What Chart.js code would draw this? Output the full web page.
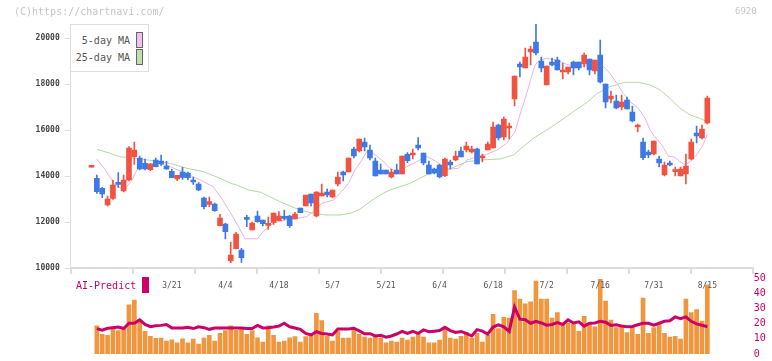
<!DOCTYPE HTML>
<html>
<head>
  <script src="https://cdn.jsdelivr.net/npm/chart.js"></script>
  <style>
    body { margin: 0; background: #fff; }
    #wrap { position: relative; width: 772px; height: 361px; font-family: "DejaVu Sans Mono", monospace; }
    #wrap canvas { position: absolute; left: 0; top: 0; }
    .txt { position: absolute; white-space: nowrap; line-height: 1; }
  </style>
  <script>
    // daily candles (index 0 = first day shown)
    const opens  = [14380,13899,13464,12740,13030,13711,13348,13826,14841,14783,14551,14276,14696,14652,14435,14203,13870,14174,14131,13783,
                    13653,13044,12769,12783,11841,11914,10306,10842,10784,12160,11653,12262,12088,11856,11986,12059,12218,12262,12131,12610,
                    12697,13218,12262,13131,13305,13088,13653,14174,14174,15174,15087,15479,15131,14652,14261,14261,13957,14261,14087,14944,
                    14914,15349,15001,14480,14306,14480,14016,14610,14697,15088,15132,15045,15175,14784,15132,15219,16219,15697,16088,17349,
                    18870,18697,19392,19827,19001,17957,18957,19044,18523,18523,18957,18957,18870,19088,18566,19262,18001,17349,17262,17001,
                    17305,16784,16132,15480,15045,14958,14741,14045,14567,14190,14002,14089,14741,15871,15654,16306];
    const highs  = [14380,14044,13508,13131,13826,14145,14044,15276,15478,14870,14739,14537,14783,14913,14638,14290,14029,14377,14174,13942,
                    13711,13088,13088,12827,12334,11943,11131,11552,10856,12291,12001,12479,12088,12218,12392,12450,12522,12291,12421,12610,
                    13175,13218,13320,13653,13436,13392,14174,14218,14783,15261,15609,15652,15348,14783,14522,14261,14305,14522,14870,15016,
                    15175,15668,15001,14654,14349,14523,14784,14697,15088,15262,15480,15306,15219,14958,15480,16349,16262,16567,16306,18349,
                    18957,19566,19653,20609,19175,18783,19131,19175,18914,18740,19001,18957,19349,19088,19044,19914,18001,17697,17523,17523,
                    17436,17045,16262,15654,15132,15523,14871,14610,14654,14393,14393,14958,15610,16175,16219,17479];
    const lows   = [14380,13247,13059,12696,12986,13508,13305,13783,14508,14261,14261,14232,14392,14464,14290,13928,13797,13855,13826,13638,
                    13363,12566,12667,12464,11827,11262,10233,10827,10247,11798,11653,11986,11827,11682,11899,12059,12088,11769,12131,12407,
                    12697,12697,12218,13131,13088,13044,13566,13783,14174,14783,15044,15087,14696,14000,14087,14087,13913,14087,14087,14581,
                    14741,15132,14480,14089,14089,13915,13973,14306,14654,14827,15045,15001,14523,14610,15132,15219,15567,15567,15610,17045,
                    18305,18697,18827,19262,18523,17957,18783,18610,18218,18436,18392,18610,18740,18392,18436,18044,16958,17175,16914,16871,
                    16914,16349,15914,14712,14799,14914,14393,14002,14436,14002,14002,13654,14697,15436,15610,16262];
    const closes = [14380,13319,13218,13000,13609,13638,13826,15218,15131,14305,14305,14522,14406,14522,14305,13928,14029,13942,13928,13740,
                    13392,12667,12885,12493,12175,11580,10566,11479,10450,12117,11957,12015,11928,11928,12392,12262,12160,11841,12349,12407,
                    13175,12827,13305,13262,13175,13392,13957,14044,14783,14870,15609,15261,14783,14000,14087,14087,14174,14087,14870,14668,
                    15001,15219,14567,14089,14132,13958,14741,14480,14871,14827,15306,15175,14523,14827,15393,16132,15654,16480,16175,18349,
                    18740,19175,19522,19349,18697,18783,18827,18610,18610,18740,18697,18697,19262,18610,19044,18088,17218,17479,16958,17218,
                    16914,16392,16175,14799,14914,15523,14567,14480,14480,14262,14306,14436,15480,15741,16045,17392];

    // moving averages: [day index, value]
    const ma5Pos  = [1,2.5,4.4,6,7.5,9,12.7,14.7,17.5,20.3,22.7,24.5,26.4,28.7,31,32.1,33.9,36.1,38.3,40.2,41.4,43,45.2,46.7,48,49.2,50.5,51.4,
                     52.6,54.2,55.7,57,58.9,60.7,62.6,64.5,65.7,66.9,68.5,70.1,71.9,73.8,75.7,77.5,79.1,80,81,81.9,82.8,83.8,85,86.9,88.7,
                     90.6,92.5,94.3,95,96.8,98.1,99.3,100.6,102.1,103.4,104.3,105.2,106.5,107.7,109,109.9,110.8,111.8,113,114.2,115];
    const ma5Vals = [14740,14290,13609,13392,13800,14480,14552,14404,14130,13826,13535,12957,12230,11270,11270,11600,11943,12087,12160,12230,
                     12450,12812,12957,13317,13683,14261,14696,15056,14987,14696,14335,14187,14404,14622,14850,14622,14335,14304,14335,14696,
                     14839,14943,15131,15422,15926,16652,17378,18100,18826,19043,19117,19043,18856,18752,18796,18856,18900,18465,18030,17596,
                     17233,16944,16509,16000,15709,15348,14870,14813,14622,14478,14622,14913,15348,15813];
    const ma25Pos  = [1,3.5,5.3,8.4,11.5,14.7,17.8,20.9,24,26,27.1,29.3,31.5,33.3,35.2,37.1,38.9,41.4,43.9,46.4,48.3,50.1,52,53.9,55.7,57.6,
                      59.5,61.3,63,66.9,70.1,72.5,76.3,78.8,80.6,82.5,85,87.5,90,92.5,94.5,96.8,99.6,102.1,104.3,106.2,108,109.9,111.8,113.6,115];
    const ma25Vals = [15161,14987,14839,14769,14665,14552,14335,14187,13900,13682,13609,13391,13300,13100,12883,12696,12522,12378,12304,12304,
                      12378,12552,12883,13174,13391,13535,13682,13900,14090,14304,14622,14696,14739,14913,15274,15639,16000,16391,16796,17200,
                      17600,17883,18074,18074,17957,17739,17378,16944,16652,16509,16361];

    // lower panel: volume bars and AI-Predict line (no value on day 0)
    const volumes = [null,18.6,13,12.4,17.8,15.5,17.2,32.5,35.6,22.6,14.9,11.7,10.3,10.5,8.6,9.4,7.3,10,7.3,9.8,6.5,10.5,12.4,8.6,13.6,15.5,
                     18.6,15.7,17.4,13,15.5,10.7,7.9,18.6,12.4,7.9,8.6,10.7,11.5,7.9,11.5,13.6,26.8,22,11.7,8.6,14.9,10.5,10.5,15.7,13,
                     11.1,10.5,11.7,10.5,7.3,8.6,7.9,10.5,9.2,11.1,13,11.1,7.3,7.3,9.2,16.8,10.5,9.8,11.7,14.2,10.5,13.6,7.9,12.4,26.2,
                     16.8,24.3,23.7,41.9,36.2,33.1,34.4,48.2,36.2,36.2,23.7,27.4,20.5,20.5,19.9,14.9,24.9,19.9,18,49.4,35,22.4,17.4,19.3,
                     14.2,18,13,36.9,13.6,17.4,19.3,13.6,11.1,11.7,9.8,36.2,27.4,29.3,21.8,45.7];
    const aiPredict = [null,16.8,15.7,17,17.4,17.8,16.8,20.3,20.3,22.6,19.5,18,18.6,18.9,19.5,17.2,17.2,17.2,17.6,16.8,18,17.4,16.3,17.2,17.2,
                       17.2,17.2,17.2,17.2,16.8,16.8,18.9,17.2,17.4,17.8,18.4,20.3,18,17.2,16.3,13.6,12.6,14.7,13.6,13.2,12.6,16.5,16.5,
                       16.5,17,15.3,13.4,13.4,11.9,12.4,11.1,11.9,13.2,14.9,13.6,14.9,13.6,15.9,14.7,15.1,15.5,17.6,15.5,14.2,14.9,13.6,
                       11.9,16.1,15.1,13.2,17.8,19.3,18,14.9,31,23,22.6,20.3,21.6,20.5,19,19.5,20.7,19.5,22.6,20.5,21.2,18.4,20.3,20.5,
                       21.6,21,18.9,19.3,18.4,18,18.2,19.3,20.3,20.3,19,20.3,21.6,22,24.5,23.3,24.5,21.6,19.9,19,18];

    const dateLabels = ["3/21","4/4","4/18","5/7","5/21","6/4","6/18","7/2","7/16","7/31","8/15"];
    const dateIdx    = [15,25,35,45,55,65,75,85,95,105,115];
    const priceTicks = [10000,12000,14000,16000,18000,20000];
    const aiTicks    = [0,10,20,30,40,50];

    // shared horizontal layout (pixels)
    const AREA_L = 70.7, AREA_R = 752.7, FIRST_X = 91.5, STEP = 5.355;
    const X_MIN = -(FIRST_X - AREA_L) / STEP;
    const X_MAX = X_MIN + (AREA_R - AREA_L) / STEP;
    const gridTicks = Array.from({length: 12}, (_, k) => X_MIN + k * (X_MAX - X_MIN) / 11);

    const UP = '#f25340', DOWN = '#3f79e6';
    const monoFont = '"DejaVu Sans Mono", monospace';

    function drawPrice() {
      const ctx = document.getElementById('priceChart').getContext('2d');
      const days = closes.map((_, i) => i);
      const colors = days.map(i => closes[i] >= opens[i] ? UP : DOWN);

      new Chart(ctx, {
        type: 'bar',
        data: {
          datasets: [
            { type: 'line', data: ma5Pos.map((p, k) => ({x: p, y: ma5Vals[k]})),
              borderColor: '#e6b2e6', borderWidth: 1, pointRadius: 0, order: 3 },
            { type: 'line', data: ma25Pos.map((p, k) => ({x: p, y: ma25Vals[k]})),
              borderColor: '#b3d9a1', borderWidth: 1, pointRadius: 0, order: 4 },
            { data: days.map(i => ({x: i, y: [lows[i], highs[i]]})),
              backgroundColor: colors, barThickness: 1, grouped: false, order: 2 },
            { data: days.map(i => ({x: i, y: [opens[i], closes[i]]})),
              backgroundColor: colors, barThickness: 5, minBarLength: 2, grouped: false, order: 1 }
          ]
        },
        options: {
          responsive: false,
          animation: false,
          layout: { padding: { left: 0, right: 772 - AREA_R, top: 24, bottom: 0 } },
          plugins: { legend: { display: false }, tooltip: { enabled: false } },
          scales: {
            x: {
              type: 'linear', min: X_MIN, max: X_MAX, offset: false,
              afterBuildTicks: s => { s.ticks = gridTicks.map(v => ({value: v})); },
              afterFit: s => { s.height = 93; },
              grid: { drawOnChartArea: false, color: '#dddddd', lineWidth: 2, tickLength: 6, offset: false },
              border: { color: '#dddddd', width: 2 },
              ticks: { display: false }
            },
            y: {
              min: 10000, max: 20609,
              afterBuildTicks: s => { s.ticks = priceTicks.map(v => ({value: v})); },
              afterFit: s => { s.width = AREA_L; },
              grid: { drawOnChartArea: false, color: '#dddddd', tickLength: 6 },
              border: { color: '#dddddd' },
              ticks: { color: '#444', padding: 5, font: { family: monoFont, size: 8, weight: 'bold' },
                       callback: v => String(v) }
            }
          }
        }
      });
    }

    const dateLabelPlugin = {
      id: 'dateLabels',
      afterDraw(chart) {
        const c = chart.ctx, xs = chart.scales.x;
        c.save();
        c.font = '8px ' + monoFont;
        c.fillStyle = '#555';
        c.textAlign = 'center';
        c.textBaseline = 'middle';
        dateLabels.forEach((t, k) => c.fillText(t, xs.getPixelForValue(dateIdx[k]), 285.5));
        c.restore();
      }
    };

    function drawVolume() {
      const ctx = document.getElementById('volChart').getContext('2d');
      new Chart(ctx, {
        type: 'bar',
        data: {
          datasets: [
            { type: 'line', yAxisID: 'yAI', data: aiPredict.map((v, i) => ({x: i, y: v})),
              borderColor: '#cc0066', borderWidth: 3, pointRadius: 0, order: 1 },
            { yAxisID: 'yVol', data: volumes.map((v, i) => ({x: i, y: v})),
              backgroundColor: '#f0963e', barThickness: 4, grouped: false, order: 2 }
          ]
        },
        options: {
          responsive: false,
          animation: false,
          layout: { padding: { left: AREA_L, right: 0, top: 278.3, bottom: 3.3 } },
          plugins: { legend: { display: false }, tooltip: { enabled: false } },
          scales: {
            x: { type: 'linear', min: X_MIN, max: X_MAX, offset: false, display: false },
            yVol: { display: false, min: 0, max: 50 },
            yAI: {
              position: 'right', min: 0, max: 50,
              afterBuildTicks: s => { s.ticks = aiTicks.map(v => ({value: v})); },
              afterFit: s => { s.width = 772 - AREA_R; },
              grid: { display: false, drawTicks: false },
              border: { display: false },
              ticks: { color: '#cc0066', padding: 1, font: { family: monoFont, size: 10 } }
            }
          }
        },
        plugins: [dateLabelPlugin]
      });
    }

    window.onload = function() {
      drawPrice();
      drawVolume();
    }
  </script>
</head>
<body>
  <div id="wrap">
    <canvas id="priceChart" width="772" height="361"></canvas>
    <canvas id="volChart" width="772" height="361"></canvas>
    <div class="txt" style="left:14px; top:7px; font-size:10px; color:#c6c6c6">(C)https://chartnavi.com/</div>
    <div class="txt" style="left:735px; top:7px; font-size:9px; color:#c6c6c6">6920</div>
    <div style="position:absolute; left:70px; top:24px; width:77px; height:46px; border:1px solid #dddddd; background:#fff">
      <div class="txt" style="right:18px; top:11px; font-size:10px; color:#555">5-day MA</div>
      <div style="position:absolute; left:65px; top:7px; width:5px; height:14px; border:1px solid #666; background:#f0c0f0"></div>
      <div class="txt" style="right:18px; top:28px; font-size:10px; color:#555">25-day MA</div>
      <div style="position:absolute; left:65px; top:24px; width:5px; height:14px; border:1px solid #666; background:#bfe0ae"></div>
    </div>
    <div class="txt" style="left:76px; top:281px; font-size:10px; color:#cc0066">AI-Predict</div>
    <div style="position:absolute; left:142px; top:277px; width:7px; height:16px; background:#cc0066"></div>
  </div>
</body>
</html>
